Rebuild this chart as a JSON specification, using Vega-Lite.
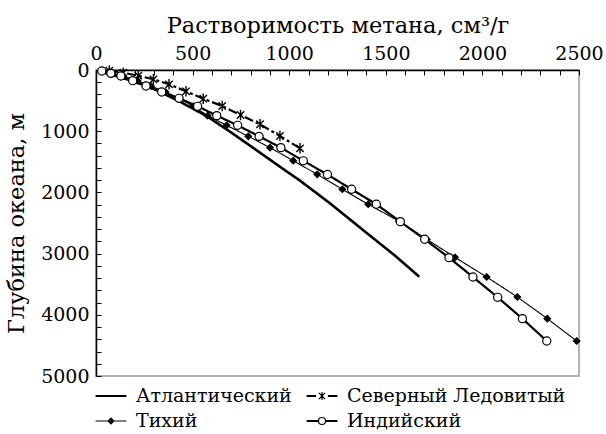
{
  "$schema": "https://vega.github.io/schema/vega-lite/v6.json",
  "width": 483,
  "height": 306,
  "autosize": "none",
  "padding": {"left": 96, "top": 70, "right": 27, "bottom": 58},
  "background": "white",
  "config": {
    "view": {"stroke": "#9a9a9a", "strokeWidth": 1.5},
    "font": "DejaVu Serif",
    "axis": {
      "labelFont": "DejaVu Serif",
      "titleFont": "DejaVu Serif",
      "labelFontSize": 19,
      "titleFontSize": 22.5,
      "titleFontWeight": "normal",
      "labelColor": "black",
      "titleColor": "black",
      "domainColor": "black",
      "domainWidth": 1.5,
      "tickColor": "black",
      "tickWidth": 1,
      "tickSize": -5,
      "grid": false
    }
  },
  "data": {
    "values": [
      {"ocean": "Атлантический", "s": 10, "d": 16},
      {"ocean": "Атлантический", "s": 100, "d": 95},
      {"ocean": "Атлантический", "s": 200, "d": 190},
      {"ocean": "Атлантический", "s": 300, "d": 310},
      {"ocean": "Атлантический", "s": 435, "d": 517},
      {"ocean": "Атлантический", "s": 578, "d": 763},
      {"ocean": "Атлантический", "s": 700, "d": 1022},
      {"ocean": "Атлантический", "s": 780, "d": 1198},
      {"ocean": "Атлантический", "s": 952, "d": 1580},
      {"ocean": "Атлантический", "s": 1056, "d": 1808},
      {"ocean": "Атлантический", "s": 1211, "d": 2178},
      {"ocean": "Атлантический", "s": 1400, "d": 2660},
      {"ocean": "Атлантический", "s": 1550, "d": 3040},
      {"ocean": "Атлантический", "s": 1673, "d": 3377},

      {"ocean": "Тихий", "s": 35, "d": 16},
      {"ocean": "Тихий", "s": 85, "d": 55},
      {"ocean": "Тихий", "s": 140, "d": 98},
      {"ocean": "Тихий", "s": 215, "d": 175},
      {"ocean": "Тихий", "s": 285, "d": 261},
      {"ocean": "Тихий", "s": 360, "d": 359},
      {"ocean": "Тихий", "s": 430, "d": 463},
      {"ocean": "Тихий", "s": 505, "d": 593},
      {"ocean": "Тихий", "s": 578, "d": 746},
      {"ocean": "Тихий", "s": 676, "d": 904},
      {"ocean": "Тихий", "s": 788, "d": 1084},
      {"ocean": "Тихий", "s": 901, "d": 1269},
      {"ocean": "Тихий", "s": 1021, "d": 1482},
      {"ocean": "Тихий", "s": 1145, "d": 1705},
      {"ocean": "Тихий", "s": 1275, "d": 1949},
      {"ocean": "Тихий", "s": 1409, "d": 2194},
      {"ocean": "Тихий", "s": 1568, "d": 2470},
      {"ocean": "Тихий", "s": 1712, "d": 2766},
      {"ocean": "Тихий", "s": 1858, "d": 3061},
      {"ocean": "Тихий", "s": 2022, "d": 3382},
      {"ocean": "Тихий", "s": 2181, "d": 3709},
      {"ocean": "Тихий", "s": 2336, "d": 4063},
      {"ocean": "Тихий", "s": 2488, "d": 4428},

      {"ocean": "Северный Ледовитый", "s": 69, "d": 10},
      {"ocean": "Северный Ледовитый", "s": 141, "d": 44},
      {"ocean": "Северный Ледовитый", "s": 219, "d": 93},
      {"ocean": "Северный Ледовитый", "s": 297, "d": 152},
      {"ocean": "Северный Ледовитый", "s": 378, "d": 234},
      {"ocean": "Северный Ледовитый", "s": 466, "d": 348},
      {"ocean": "Северный Ледовитый", "s": 555, "d": 469},
      {"ocean": "Северный Ледовитый", "s": 653, "d": 588},
      {"ocean": "Северный Ледовитый", "s": 748, "d": 735},
      {"ocean": "Северный Ледовитый", "s": 849, "d": 887},
      {"ocean": "Северный Ледовитый", "s": 952, "d": 1078},
      {"ocean": "Северный Ледовитый", "s": 1056, "d": 1280},

      {"ocean": "Индийский", "s": 30, "d": 16},
      {"ocean": "Индийский", "s": 77, "d": 55},
      {"ocean": "Индийский", "s": 129, "d": 98},
      {"ocean": "Индийский", "s": 190, "d": 175},
      {"ocean": "Индийский", "s": 259, "d": 261},
      {"ocean": "Индийский", "s": 340, "d": 359},
      {"ocean": "Индийский", "s": 430, "d": 463},
      {"ocean": "Индийский", "s": 526, "d": 593},
      {"ocean": "Индийский", "s": 625, "d": 746},
      {"ocean": "Индийский", "s": 733, "d": 904},
      {"ocean": "Индийский", "s": 844, "d": 1084},
      {"ocean": "Индийский", "s": 957, "d": 1269},
      {"ocean": "Индийский", "s": 1073, "d": 1484},
      {"ocean": "Индийский", "s": 1198, "d": 1708},
      {"ocean": "Индийский", "s": 1323, "d": 1949},
      {"ocean": "Индийский", "s": 1451, "d": 2194},
      {"ocean": "Индийский", "s": 1575, "d": 2478},
      {"ocean": "Индийский", "s": 1701, "d": 2766},
      {"ocean": "Индийский", "s": 1827, "d": 3066},
      {"ocean": "Индийский", "s": 1951, "d": 3382},
      {"ocean": "Индийский", "s": 2079, "d": 3714},
      {"ocean": "Индийский", "s": 2207, "d": 4063},
      {"ocean": "Индийский", "s": 2333, "d": 4428}
    ]
  },
  "encoding": {
    "x": {
      "field": "s", "type": "quantitative",
      "scale": {"domain": [0, 2500], "nice": false, "zero": false},
      "axis": {
        "orient": "top",
        "title": "Растворимость метана, см³/г",
        "values": [0,100,200,300,400,500,600,700,800,900,1000,1100,1200,1300,1400,1500,1600,1700,1800,1900,2000,2100,2200,2300,2400,2500],
        "labelExpr": "datum.value % 500 === 0 ? datum.label : ''",
        "format": "d",
        "labelPadding": 12,
        "titlePadding": 7,
        "labelOverlap": false,
        "labelFlush": false
      }
    },
    "y": {
      "field": "d", "type": "quantitative",
      "scale": {"domain": [0, 5000], "reverse": true, "nice": false, "zero": false},
      "axis": {
        "title": "Глубина океана, м",
        "values": [0,200,400,600,800,1000,1200,1400,1600,1800,2000,2200,2400,2600,2800,3000,3200,3400,3600,3800,4000,4200,4400,4600,4800,5000],
        "labelExpr": "datum.value % 1000 === 0 ? datum.label : ''",
        "format": "d",
        "labelPadding": 12,
        "titlePadding": 12,
        "labelOverlap": false,
        "labelFlush": false
      }
    }
  },
  "layer": [
    {
      "mark": {"type": "line", "color": "black", "clip": false},
      "encoding": {
        "detail": {"field": "ocean"},
        "order": {"field": "d", "type": "quantitative"},
        "strokeWidth": {
          "condition": [
            {"test": "datum.ocean === 'Атлантический'", "value": 2.6},
            {"test": "datum.ocean === 'Тихий'", "value": 1.1}
          ],
          "value": 2.2
        },
        "strokeDash": {
          "condition": {"test": "datum.ocean === 'Северный Ледовитый'", "value": [9, 3, 3, 3]},
          "value": [1, 0]
        }
      }
    },
    {
      "transform": [{"filter": "datum.ocean !== 'Атлантический'"}],
      "mark": {"type": "point", "filled": true, "opacity": 1, "clip": false},
      "encoding": {
        "shape": {
          "condition": [
            {"test": "datum.ocean === 'Северный Ледовитый'", "value": "M-0.7,-0.7L0.7,0.7M-0.7,0.7L0.7,-0.7M0,-1L0,1"},
            {"test": "datum.ocean === 'Тихий'", "value": "diamond"}
          ],
          "value": "circle"
        },
        "fill": {
          "condition": {"test": "datum.ocean === 'Индийский'", "value": "white"},
          "value": "black"
        },
        "stroke": {"value": "black"},
        "strokeWidth": {
          "condition": {"test": "datum.ocean === 'Северный Ледовитый'", "value": 1.4},
          "value": 1.2
        },
        "size": {
          "condition": [
            {"test": "datum.ocean === 'Северный Ледовитый'", "value": 110},
            {"test": "datum.ocean === 'Тихий'", "value": 42}
          ],
          "value": 66
        }
      }
    },
    {
      "transform": [{"filter": "false"}],
      "mark": {"type": "point", "filled": false, "stroke": "black", "strokeWidth": 1.2, "opacity": 1},
      "encoding": {
        "shape": {
          "field": "ocean", "type": "nominal",
          "scale": {
            "domain": ["Атлантический", "Северный Ледовитый", "Тихий", "Индийский"],
            "range": [
              "M-1.1,-0.035H1.1M-1.1,0H1.1M-1.1,0.035H1.1",
              "M-1.1,-0.03H-0.42M-1.1,0.03H-0.42M0.42,-0.03H1.1M0.42,0.03H1.1M-0.22,-0.22L0.22,0.22M-0.22,0.22L0.22,-0.22M0,-0.28V0.28",
              "M-1.1,0H1.1M0,-0.2L0.2,0L0,0.2L-0.2,0ZM-0.12,0H0.12M0,-0.12V0.12M-0.06,-0.06H0.06M-0.06,0.06H0.06",
              "M-1.1,-0.03H-0.25M-1.1,0.03H-0.25M0.25,-0.03H1.1M0.25,0.03H1.1M0.25,0A0.25,0.25 0 1 1 -0.25,0A0.25,0.25 0 1 1 0.25,0"
            ]
          },
          "legend": {
            "orient": "bottom",
            "direction": "horizontal",
            "columns": 2,
            "title": null,
            "offset": 5,
            "labelFont": "DejaVu Serif",
            "labelFontSize": 19,
            "labelColor": "black",
            "labelLimit": 0,
            "labelOffset": 10,
            "symbolSize": 784,
            "symbolStrokeColor": "black",
            "symbolFillColor": "transparent",
            "symbolStrokeWidth": 1.2,
            "symbolOpacity": 1,
            "columnPadding": 12,
            "rowPadding": -2,
            "padding": 0
          }
        }
      }
    }
  ]
}
